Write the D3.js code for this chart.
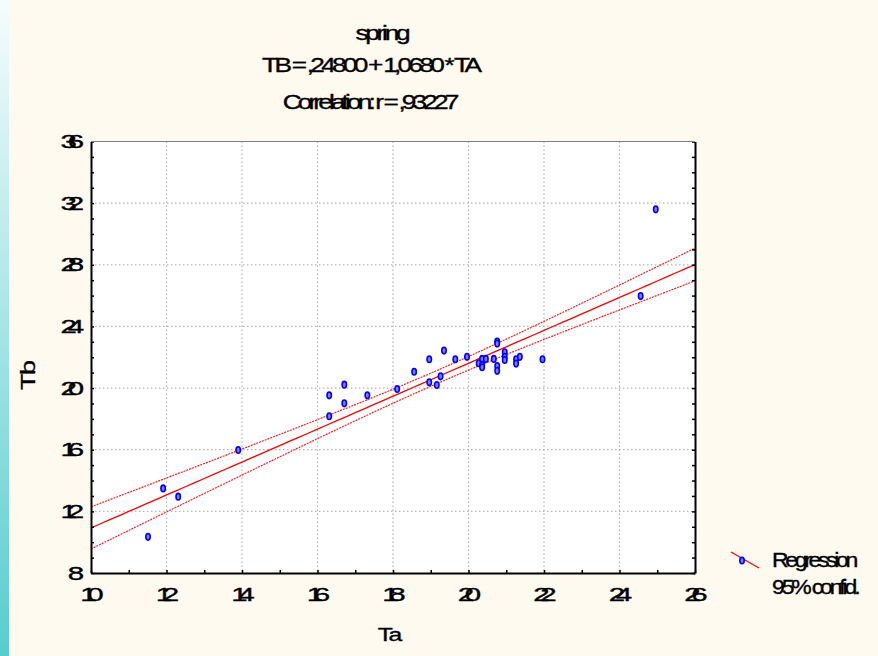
<!DOCTYPE html>
<html><head><meta charset="utf-8">
<script src="https://cdn.jsdelivr.net/npm/d3@7"></script>
<style>html,body{margin:0;padding:0;background:#fefaf0;}svg{display:block;}</style>
</head><body>
<script>
// ---- data ----
const titleLines = ["spring", "TB = ,24800 + 1,0680 * TA", "Correlation: r = ,93227"];
const xLabel = "Ta";
const yLabel = "Tb";
const legendLabels = ["Regression", "95% confid."];
const xTicks = [10, 12, 14, 16, 18, 20, 22, 24, 26];
const yTicks = [8, 12, 16, 20, 24, 28, 32, 36];
const intercept = 0.248;
const slope = 1.068;
const ta = [11.51, 11.91, 12.31, 13.90, 16.31, 16.71, 16.31, 16.71, 17.32, 18.11,
            18.56, 18.96, 19.35, 18.96, 19.16, 19.26, 19.65, 19.96, 20.27, 20.36,
            20.36, 20.36, 20.46, 20.67, 20.76, 20.76, 20.76, 20.76, 20.96, 20.96,
            20.96, 21.26, 21.26, 21.36, 21.96, 24.56, 24.96];
const tb = [10.35, 13.49, 12.95, 15.98, 19.53, 20.22, 18.17, 19.01, 19.53, 19.94,
            21.06, 21.87, 22.43, 20.37, 20.20, 20.76, 21.87, 22.03, 21.61, 21.89,
            21.50, 21.35, 21.89, 21.89, 23.02, 22.89, 21.43, 21.12, 22.32, 22.03,
            21.82, 21.87, 21.59, 22.03, 21.87, 25.97, 31.60];

const W = 878, H = 656;
const svg = d3.select("body").append("svg").attr("width", W).attr("height", H);

// background
const defs = svg.append("defs");
const grad = defs.append("linearGradient").attr("id", "lg").attr("x1", 0).attr("y1", 0).attr("x2", 0).attr("y2", 1);
grad.append("stop").attr("offset", "0%").attr("stop-color", "#f6fcfd");
grad.append("stop").attr("offset", "100%").attr("stop-color", "#57cdce");
svg.append("rect").attr("width", W).attr("height", H).attr("fill", "#fefaf0");
svg.append("rect").attr("x", 0).attr("y", 0).attr("width", 9).attr("height", H).attr("fill", "url(#lg)");

const x = d3.scaleLinear().domain([10, 26]).range([91, 695]);
const y = d3.scaleLinear().domain([8, 36]).range([573, 141.5]);

// plot area
svg.append("rect").attr("x", x(10)).attr("y", y(36)).attr("width", x(26) - x(10)).attr("height", y(8) - y(36)).attr("fill", "#ffffff");
defs.append("clipPath").attr("id", "clip").append("rect")
  .attr("x", x(10)).attr("y", y(36)).attr("width", x(26) - x(10)).attr("height", y(8) - y(36));

// grid
const grid = svg.append("g");
grid.selectAll(".gx").data(xTicks.slice(1, -1)).join("line")
  .attr("x1", d => x(d)).attr("x2", d => x(d)).attr("y1", y(36)).attr("y2", y(8))
  .attr("stroke", "#b4b4b4").attr("stroke-width", 1.2).attr("stroke-dasharray", "1.5,2.5");
grid.selectAll(".gy").data(yTicks.slice(1, -1)).join("line")
  .attr("y1", d => y(d)).attr("y2", d => y(d)).attr("x1", x(10)).attr("x2", x(26))
  .attr("stroke", "#b4b4b4").attr("stroke-width", 1.2).attr("stroke-dasharray", "1.5,2.5");

// regression + confidence band
const n = ta.length;
const xbar = d3.mean(ta);
const Sxx = d3.sum(ta, v => (v - xbar) ** 2);
const sse = d3.sum(ta.map((v, i) => (tb[i] - (intercept + slope * v)) ** 2));
const s = Math.sqrt(sse / (n - 2));
const tval = 2.03;
const xs = d3.range(10, 26.001, 0.25);
const fit = v => intercept + slope * v;
const half = v => tval * s * Math.sqrt(1 / n + (v - xbar) ** 2 / Sxx);
const lg = svg.append("g").attr("clip-path", "url(#clip)");
lg.append("path").datum(xs).attr("d", d3.line().x(v => x(v)).y(v => y(fit(v))))
  .attr("fill", "none").attr("stroke", "#ff0000").attr("stroke-width", 1.3);
lg.append("path").datum(xs).attr("d", d3.line().x(v => x(v)).y(v => y(fit(v) + half(v))))
  .attr("fill", "none").attr("stroke", "#ff2020").attr("stroke-width", 1.2).attr("stroke-dasharray", "2,1");
lg.append("path").datum(xs).attr("d", d3.line().x(v => x(v)).y(v => y(fit(v) - half(v))))
  .attr("fill", "none").attr("stroke", "#ff2020").attr("stroke-width", 1.2).attr("stroke-dasharray", "2,1");

// points
svg.append("g").selectAll("ellipse").data(ta.map((v, i) => [v, tb[i]])).join("ellipse")
  .attr("cx", d => x(d[0])).attr("cy", d => y(d[1])).attr("rx", 2.2).attr("ry", 3.3)
  .attr("fill", "#7c7cff").attr("stroke", "#0000ff").attr("stroke-width", 1.6);

// axes (ticks inward)
const minorX = d3.range(10, 27, 1), minorY = d3.range(8, 37, 1);
svg.append("g").attr("transform", `translate(0,${y(8)})`)
  .call(d3.axisBottom(x).tickValues(minorX).tickSize(-3).tickFormat("").tickSizeOuter(0))
  .call(g => g.select(".domain").attr("stroke-width", 2))
  .call(g => g.selectAll(".tick line").attr("stroke-width", 1.5));
svg.append("g").attr("transform", `translate(${x(10)},0)`)
  .call(d3.axisLeft(y).tickValues(minorY).tickSize(-3).tickFormat("").tickSizeOuter(0))
  .call(g => g.select(".domain").attr("stroke-width", 2))
  .call(g => g.selectAll(".tick line").attr("stroke-width", 1.5));
svg.append("g").attr("transform", `translate(${x(26)},0)`)
  .call(d3.axisRight(y).tickValues(minorY).tickSize(-3).tickFormat("").tickSizeOuter(0))
  .call(g => g.select(".domain").attr("stroke-width", 2))
  .call(g => g.selectAll(".tick line").attr("stroke-width", 1.5));
svg.append("line").attr("x1", x(10)).attr("x2", x(26)).attr("y1", y(36)).attr("y2", y(36))
  .attr("stroke", "#808080").attr("stroke-width", 1);

// stretched, tightly spaced text helper (align: 0 left, 0.5 centre, 1 right)
function stext(str, px, py, o) {
  const outer = svg.append("g").attr("transform", `translate(${px},${py})${o.rot ? " rotate(" + o.rot + ")" : ""}`);
  const inner = outer.append("g").attr("transform", `scale(${o.sx},1)`);
  const t = inner.append("text").text(str)
    .attr("font-family", "'Liberation Sans', Arial, sans-serif")
    .attr("font-size", o.size).attr("fill", "#000")
    .attr("stroke", "#000").attr("stroke-width", o.sw === undefined ? 0.35 : o.sw)
    .attr("letter-spacing", o.ls || 0);
  const len = t.node().getComputedTextLength();
  const ink = len - (o.ls || 0);
  const align = o.align === undefined ? 0.5 : o.align;
  t.attr("x", -align * ink);
  return t;
}

// tick labels
xTicks.forEach(v => stext(String(v), x(v) + 1, 601, { size: 19, sx: 1.55, ls: -6 }));
yTicks.forEach(v => stext(String(v), 84, y(v) + 6.5, { size: 19, sx: 1.55, ls: -6, align: 1 }));

// titles
stext(titleLines[0], 383, 40, { size: 21, sx: 1.25, ls: -2.6 });
stext(titleLines[1], 372, 72, { size: 21, sx: 1.25, ls: -3.0 });
stext(titleLines[2], 371, 109, { size: 21, sx: 1.25, ls: -3.1 });

// axis labels
stext(xLabel, 390, 641, { size: 19, sx: 1.3, ls: -1.2 });
stext(yLabel, 35, 375, { size: 20, sx: 1.35, ls: -1.2, rot: -90 });

// legend
svg.append("line").attr("x1", 731).attr("y1", 552).attr("x2", 759).attr("y2", 568)
  .attr("stroke", "#ff0000").attr("stroke-width", 1.3);
svg.append("ellipse").attr("cx", 742).attr("cy", 560.5).attr("rx", 2.2).attr("ry", 3.3)
  .attr("fill", "#7c7cff").attr("stroke", "#0000ff").attr("stroke-width", 1.6);
stext(legendLabels[0], 772, 567, { size: 20, sx: 1.15, ls: -2.9, align: 0 });
stext(legendLabels[1], 772, 594, { size: 20, sx: 1.15, ls: -2.75, align: 0 });
</script>
</body></html>
